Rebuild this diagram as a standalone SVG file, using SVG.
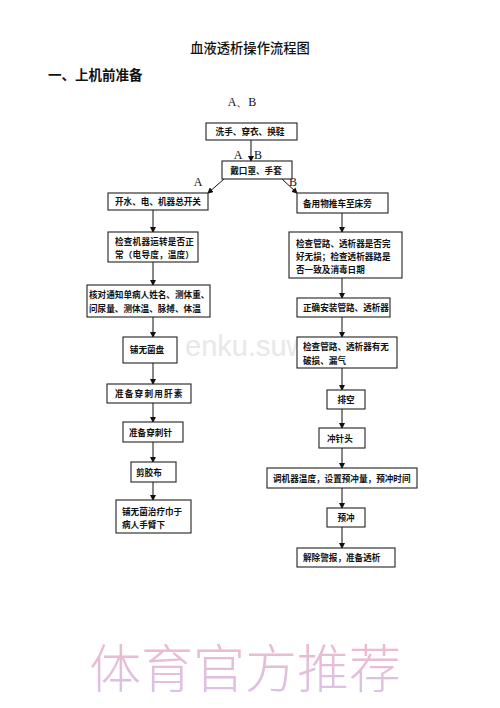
<svg xmlns="http://www.w3.org/2000/svg" width="500" height="708" viewBox="0 0 500 708">
<style>
.t{font-family:"Noto Sans CJK SC","Noto Sans CJK JP",sans-serif;fill:#111;}
.b{font-size:8.6px;font-weight:bold;}
.lab{font-family:"Liberation Serif",serif;font-size:12px;fill:#111;}
rect.n{fill:#fff;stroke:#222;stroke-width:1.1;}
#connectors line{stroke:#111;stroke-width:1;}
</style>
<defs>
<marker id="ah" markerWidth="6" markerHeight="6" refX="5" refY="3" orient="auto" markerUnits="userSpaceOnUse">
<path d="M0,0 L6,3 L0,6 z" fill="#111"/>
</marker>
<linearGradient id="wm" x1="0" y1="0" x2="0" y2="1">
<stop offset="0" stop-color="#f2b8c8"/>
<stop offset="1" stop-color="#d7c3ea"/>
</linearGradient>
<clipPath id="wc"><rect x="178" y="320" width="119" height="50"/></clipPath>
</defs>
<rect width="500" height="708" fill="#fff"/>
<text x="250" y="53" text-anchor="middle" class="t" font-size="13.3px" font-weight="500">血液透析操作流程图</text>
<text x="48" y="80" class="t" font-size="13.5px" font-weight="bold">一、上机前准备</text>
<text x="242" y="106" text-anchor="middle" class="lab">A、B</text>
<g clip-path="url(#wc)"><text x="185" y="356" font-family="Liberation Sans,sans-serif" font-size="29px" fill="#e8e8e8">enku.suwe</text></g>
<g id="connectors">
<line x1="251" y1="140" x2="251" y2="161" marker-end="url(#ah)"/>
<line x1="224" y1="179" x2="208" y2="193" marker-end="url(#ah)"/>
<line x1="282" y1="179" x2="297" y2="193" marker-end="url(#ah)"/>
<line x1="153" y1="210" x2="153" y2="232" marker-end="url(#ah)"/>
<line x1="153" y1="262" x2="153" y2="285" marker-end="url(#ah)"/>
<line x1="153" y1="317" x2="153" y2="337" marker-end="url(#ah)"/>
<line x1="153" y1="363" x2="153" y2="384" marker-end="url(#ah)"/>
<line x1="153" y1="403" x2="153" y2="422" marker-end="url(#ah)"/>
<line x1="153" y1="442" x2="153" y2="462" marker-end="url(#ah)"/>
<line x1="153" y1="482" x2="153" y2="500" marker-end="url(#ah)"/>
<line x1="342" y1="213" x2="342" y2="232" marker-end="url(#ah)"/>
<line x1="342" y1="278" x2="342" y2="298" marker-end="url(#ah)"/>
<line x1="342" y1="317" x2="342" y2="337" marker-end="url(#ah)"/>
<line x1="342" y1="368" x2="342" y2="390" marker-end="url(#ah)"/>
<line x1="342" y1="409" x2="342" y2="428" marker-end="url(#ah)"/>
<line x1="342" y1="448" x2="342" y2="468" marker-end="url(#ah)"/>
<line x1="342" y1="488" x2="342" y2="508" marker-end="url(#ah)"/>
<line x1="342" y1="527" x2="342" y2="548" marker-end="url(#ah)"/>
<text x="238" y="159" text-anchor="middle" class="lab">A</text>
<text x="258" y="159" text-anchor="middle" class="lab">B</text>
<text x="198" y="186" text-anchor="middle" class="lab">A</text>
<text x="293" y="186" text-anchor="middle" class="lab">B</text>
</g>
<g id="n1"><rect class="n" x="206" y="123" width="91" height="17"/><text x="250" y="135" text-anchor="middle" class="t b">洗手、穿衣、换鞋</text></g>
<g id="n2"><rect class="n" x="222" y="161" width="70" height="18"/><text x="256" y="173.5" text-anchor="middle" class="t b">戴口罩、手套</text></g>
<g id="n3"><rect class="n" x="108" y="193" width="100" height="17"/><text x="115" y="205" class="t b" font-size="8.8px">开水、电、机器总开关</text></g>
<g id="n4"><rect class="n" x="108" y="232" width="90" height="30"/><text x="115" y="245" class="t b" letter-spacing="0.2">检查机器运转是否正</text><text x="115" y="258" class="t b" letter-spacing="0.2">常（电导度，温度）</text></g>
<g id="n5"><rect class="n" x="87" y="285" width="123" height="32"/><text x="89" y="298" class="t b">核对通知单病人姓名、测体重、</text><text x="89" y="312" class="t b">问尿量、测体温、脉搏、体温</text></g>
<g id="n6"><rect class="n" x="123" y="337" width="54" height="26"/><text x="147" y="353" text-anchor="middle" class="t b">铺无菌盘</text></g>
<g id="n7"><rect class="n" x="107" y="384" width="84" height="19"/><text x="115" y="397" class="t b" letter-spacing="1.2">准备穿刺用肝素</text></g>
<g id="n8"><rect class="n" x="123" y="422" width="60" height="20"/><text x="129" y="435.5" class="t b">准备穿刺针</text></g>
<g id="n9"><rect class="n" x="131" y="462" width="45" height="20"/><text x="136" y="475.5" class="t b">剪胶布</text></g>
<g id="n10"><rect class="n" x="116" y="500" width="75" height="33"/><text x="122" y="515" class="t b" font-size="8.9px">铺无菌治疗巾于</text><text x="122" y="528" class="t b" font-size="8.9px">病人手臂下</text></g>
<g id="n11"><rect class="n" x="297" y="193" width="91" height="20"/><text x="303" y="206.5" class="t b">备用物推车至床旁</text></g>
<g id="n12"><rect class="n" x="289" y="232" width="113" height="46"/><text x="296" y="247" class="t b" font-size="9.2px">检查管路、透析器是否完</text><text x="296" y="260" class="t b" font-size="9.2px">好无损；检查透析器路是</text><text x="296" y="273" class="t b" font-size="9.2px">否一致及消毒日期</text></g>
<g id="n13"><rect class="n" x="297" y="298" width="93" height="19"/><text x="303" y="311" class="t b">正确安装管路、透析器</text></g>
<g id="n14"><rect class="n" x="297" y="337" width="100" height="31"/><text x="303" y="350" class="t b">检查管路、透析器有无</text><text x="303" y="364" class="t b">破损、漏气</text></g>
<g id="n15"><rect class="n" x="327" y="390" width="38" height="19"/><text x="346" y="403" text-anchor="middle" class="t b">排空</text></g>
<g id="n16"><rect class="n" x="319" y="428" width="46" height="20"/><text x="327" y="441.5" class="t b">冲针头</text></g>
<g id="n17"><rect class="n" x="267" y="468" width="150" height="20"/><text x="273" y="481.5" class="t b">调机器温度，设置预冲量，预冲时间</text></g>
<g id="n18"><rect class="n" x="327" y="508" width="38" height="19"/><text x="346" y="521" text-anchor="middle" class="t b">预冲</text></g>
<g id="n19"><rect class="n" x="297" y="548" width="98" height="19"/><text x="303" y="561" class="t b" font-size="8.9px">解除警报，准备透析</text></g>
<text x="245" y="688" text-anchor="middle" font-family="Noto Sans CJK SC,sans-serif" font-size="52px" font-weight="300" fill="url(#wm)">体育官方推荐</text>
</svg>
